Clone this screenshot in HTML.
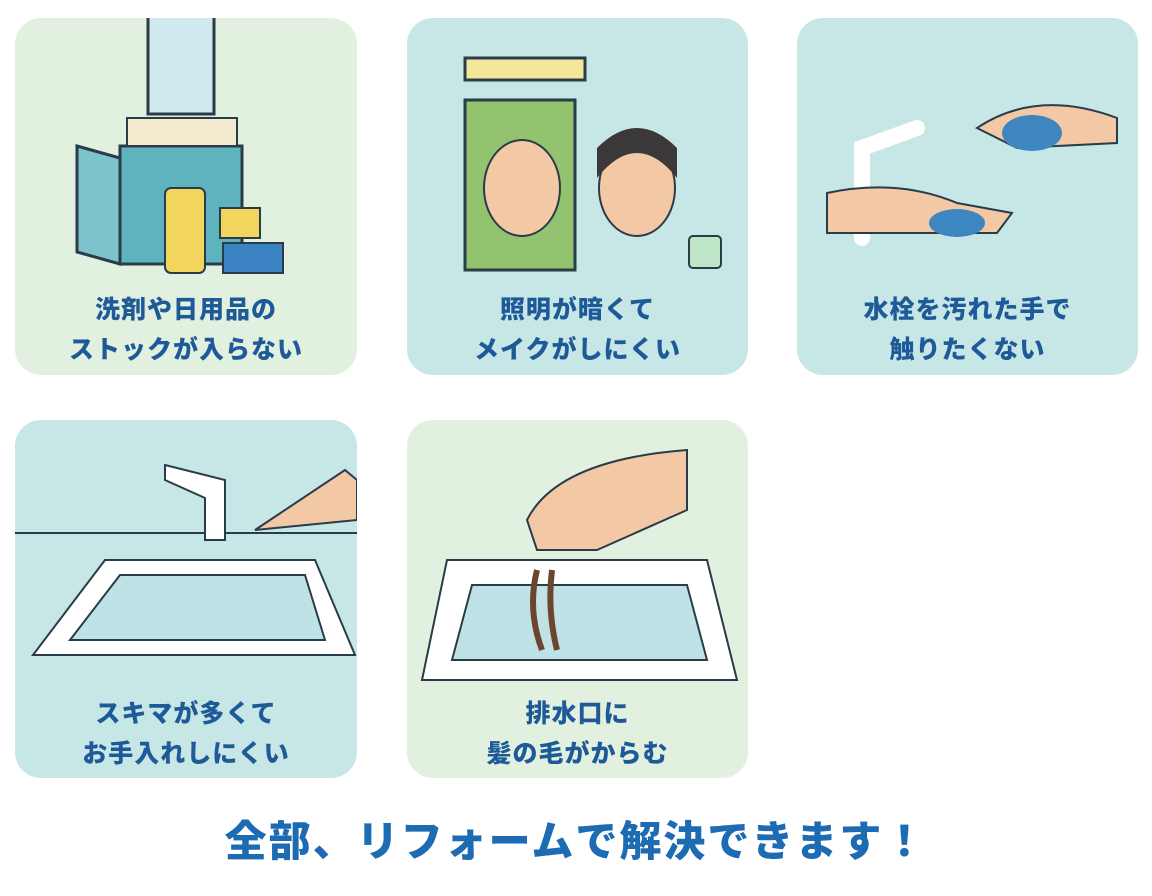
<!DOCTYPE html>
<html><head><meta charset="utf-8"><style>
body{margin:0;width:1152px;height:896px;background:#fff;position:relative;overflow:hidden;font-family:"Liberation Sans","Noto Sans CJK JP",sans-serif}
.c{position:absolute;border-radius:26px;overflow:hidden}
.g{background:#e2f1df}.t{background:#c6e7e6}
.c svg{position:absolute;left:0;top:0}
.tx{position:absolute;left:0;right:0;text-align:center;color:#1f5a98;font-weight:900;font-size:25px;line-height:40px;letter-spacing:1px}
.big{position:absolute;left:0;width:1152px;top:808px;text-align:center;color:#1c6bb3;font-weight:900;font-size:42px;letter-spacing:2px}
</style></head><body>
<div class="c g" style="left:15px;top:18px;width:342px;height:357px">
<svg width="342" height="357"><rect x="133" y="-4" width="66" height="100" fill="#cfe9ee" stroke="#2a3b4a" stroke-width="3"/>
<rect x="105" y="128" width="122" height="118" fill="#5fb3be" stroke="#2a3b4a" stroke-width="3"/>
<polygon points="62,128 105,140 105,246 62,234" fill="#7cc3cb" stroke="#2a3b4a" stroke-width="3"/>
<rect x="150" y="170" width="40" height="85" rx="6" fill="#f2d55d" stroke="#2a3b4a" stroke-width="2"/>
<rect x="205" y="190" width="40" height="30" fill="#f2d55d" stroke="#2a3b4a" stroke-width="2"/>
<rect x="208" y="225" width="60" height="30" fill="#3c83c4" stroke="#2a3b4a" stroke-width="2"/>
<rect x="112" y="100" width="110" height="28" fill="#f3ead0" stroke="#2a3b4a" stroke-width="2"/></svg>
<div class="tx" style="top:272px">洗剤や日用品の<br>ストックが入らない</div></div>
<div class="c t" style="left:407px;top:18px;width:341px;height:357px">
<svg width="341" height="357"><rect x="58" y="40" width="120" height="22" fill="#f5e79a" stroke="#2a3b4a" stroke-width="3"/>
<rect x="58" y="82" width="110" height="170" fill="#93c36e" stroke="#2a3b4a" stroke-width="3"/>
<ellipse cx="115" cy="170" rx="38" ry="48" fill="#f3c8a4" stroke="#2a3b4a" stroke-width="2"/>
<ellipse cx="230" cy="170" rx="38" ry="48" fill="#f3c8a4" stroke="#2a3b4a" stroke-width="2"/>
<path d="M190 160 Q230 110 270 160 L270 130 Q230 90 190 130Z" fill="#3a3838"/>
<rect x="282" y="218" width="32" height="32" rx="4" fill="#bfe6c8" stroke="#2a3b4a" stroke-width="2"/></svg>
<div class="tx" style="top:272px">照明が暗くて<br>メイクがしにくい</div></div>
<div class="c t" style="left:797px;top:18px;width:341px;height:357px">
<svg width="341" height="357"><path d="M65 220 L65 130 L120 110" fill="none" stroke="#fff" stroke-width="16" stroke-linecap="round"/>
<path d="M30 175 Q100 160 160 185 L215 195 L200 215 L30 215Z" fill="#f3c8a4" stroke="#2a3b4a" stroke-width="2"/>
<ellipse cx="160" cy="205" rx="28" ry="14" fill="#3d86bf"/>
<path d="M180 110 Q240 70 320 100 L320 125 L220 130Z" fill="#f3c8a4" stroke="#2a3b4a" stroke-width="2"/>
<ellipse cx="235" cy="115" rx="30" ry="18" fill="#3d86bf"/></svg>
<div class="tx" style="top:272px">水栓を汚れた手で<br>触りたくない</div></div>
<div class="c t" style="left:15px;top:420px;width:342px;height:358px">
<svg width="342" height="358"><line x1="0" y1="113" x2="342" y2="113" stroke="#2a3b4a" stroke-width="2"/>
<path d="M150 45 L210 60 L210 120 L190 120 L190 78 L150 60Z" fill="#fff" stroke="#2a3b4a" stroke-width="2"/>
<path d="M18 235 L90 140 L300 140 L340 235Z" fill="#fff" stroke="#2a3b4a" stroke-width="2"/>
<path d="M55 220 L105 155 L290 155 L310 220Z" fill="#bfe2e6" stroke="#2a3b4a" stroke-width="2"/>
<path d="M240 110 L330 50 L342 60 L342 100Z" fill="#f3c8a4" stroke="#2a3b4a" stroke-width="2"/></svg>
<div class="tx" style="top:274px">スキマが多くて<br>お手入れしにくい</div></div>
<div class="c g" style="left:407px;top:420px;width:341px;height:358px">
<svg width="341" height="358"><path d="M15 260 L40 140 L300 140 L330 260Z" fill="#fff" stroke="#2a3b4a" stroke-width="2"/>
<path d="M45 240 L65 165 L280 165 L300 240Z" fill="#bfe2e6" stroke="#2a3b4a" stroke-width="2"/>
<path d="M120 100 Q150 40 280 30 L280 90 L190 130 L130 130Z" fill="#f3c8a4" stroke="#2a3b4a" stroke-width="2"/>
<path d="M130 150 Q120 190 135 230 M145 150 Q140 190 150 230" stroke="#6b4530" stroke-width="6" fill="none"/></svg>
<div class="tx" style="top:274px">排水口に<br>髪の毛がからむ</div></div>
<div class="big">全部、リフォームで解決できます！</div>
</body></html>
